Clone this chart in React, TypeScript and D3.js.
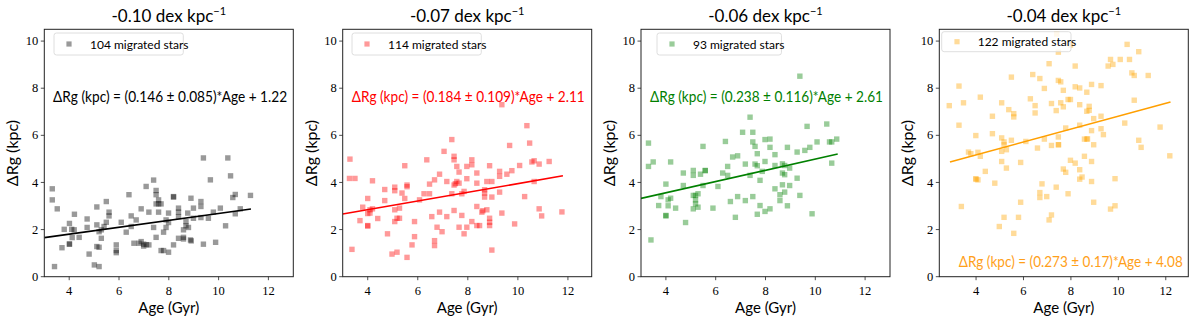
import React, { useLayoutEffect, useRef, useState } from "react";
import * as d3 from "d3";

// ---------- DATA ----------
const titles = ["-0.10", "-0.07", "-0.06", "-0.04"];
const starCounts = [104, 114, 93, 122];
const slopes = ["0.146", "0.184", "0.238", "0.273"];
const slopeErrs = ["0.085", "0.109", "0.116", "0.17"];
const intercepts = ["1.22", "2.11", "2.61", "4.08"];
const fitRanges = [[3.0, 11.3], [3.0, 11.8], [3.0, 10.9], [2.9, 12.2]];
const xTicks = [4, 6, 8, 10, 12];
const yTicks = [0, 2, 4, 6, 8, 10];

const age1 = [3.32, 3.32, 3.52, 3.41, 3.8, 3.71, 4.01, 4.01, 4.01, 4.1, 4.21, 4.2, 4.12, 4.4, 4.72, 4.72, 4.8, 5.11, 5.11, 5.11, 5.01, 5.2, 5.2, 5.2, 5.29, 5.29, 5.4, 5.49, 5.49, 5.6, 5.6, 5.89, 5.89, 5.89, 6.09, 6.29, 6.4, 6.49, 6.49, 6.6, 6.69, 6.8, 6.89, 6.89, 6.99, 6.99, 7.09, 7.1, 7.2, 7.2, 7.39, 7.39, 7.49, 7.49, 7.49, 7.49, 7.59, 7.59, 7.59, 7.69, 7.69, 7.79, 7.79, 7.89, 7.89, 7.99, 7.99, 7.99, 8.19, 8.19, 8.19, 8.39, 8.39, 8.39, 8.39, 8.59, 8.59, 8.59, 8.76, 8.69, 8.69, 8.79, 8.89, 8.87, 8.9, 8.99, 8.99, 9.29, 9.29, 9.29, 9.39, 9.39, 9.59, 9.67, 9.79, 9.88, 10.07, 10.28, 10.37, 10.48, 10.57, 10.67, 10.67, 10.87, 11.28];
const drg1 = [3.73, 3.26, 2.88, 0.43, 2.01, 1.23, 2.26, 1.39, 1.38, 2.01, 2.65, 1.99, 1.66, 1.67, 2.45, 2.09, 0.96, 2.96, 2.2, 1.28, 0.5, 0.43, 1.25, 1.91, 1.63, 1.99, 2.13, 3.19, 2.31, 2.74, 2.58, 1.35, 1.11, 1.02, 2.31, 1.89, 3.48, 2.58, 2.13, 1.42, 2.41, 1.42, 2.88, 1.49, 1.3, 1.38, 3.83, 1.36, 2.74, 1.35, 4.1, 2.09, 3.66, 3.48, 3.09, 1.67, 3.26, 2.74, 3.09, 3.09, 1.11, 1.89, 1.11, 2.09, 2.41, 2.7, 1.04, 2.3, 3.38, 3.4, 1.35, 2.91, 2.74, 1.63, 2.55, 1.67, 1.99, 1.6, 2.7, 2.34, 2.16, 2.09, 3.33, 1.56, 1.52, 2.91, 2.48, 3.19, 2.98, 2.51, 5.04, 1.38, 2.48, 4.11, 2.74, 1.46, 2.91, 2.16, 5.04, 4.28, 3.36, 3.49, 2.67, 2.88, 3.45];

const age2 = [3.29, 3.27, 3.49, 3.37, 3.69, 3.8, 4.0, 4.0, 4.0, 4.09, 4.09, 4.19, 4.19, 4.4, 4.68, 4.68, 4.79, 5.08, 5.08, 5.08, 5.08, 5.17, 4.97, 5.17, 5.27, 5.27, 5.37, 5.48, 5.48, 5.57, 5.57, 5.57, 5.77, 5.87, 5.87, 6.07, 6.25, 6.36, 6.47, 6.47, 6.56, 6.67, 6.67, 6.67, 6.77, 6.87, 6.87, 6.97, 7.05, 7.16, 7.16, 7.36, 7.36, 7.45, 7.45, 7.45, 7.45, 7.56, 7.56, 7.65, 7.65, 7.65, 7.76, 7.76, 7.85, 7.85, 7.96, 7.96, 7.96, 8.16, 8.16, 8.16, 8.36, 8.36, 8.36, 8.36, 8.47, 8.56, 8.67, 8.67, 8.67, 8.76, 8.76, 8.87, 8.87, 8.87, 8.87, 8.96, 8.96, 8.96, 9.27, 9.27, 9.27, 9.36, 9.36, 9.56, 9.67, 9.76, 9.87, 10.07, 10.27, 10.36, 10.47, 10.56, 10.65, 10.65, 10.85, 10.85, 10.95, 11.25, 11.76, 4.0, 8.6, 7.5];
const drg2 = [4.99, 4.17, 4.17, 1.16, 2.38, 2.95, 3.32, 2.17, 2.15, 2.7, 2.84, 4.07, 2.88, 2.47, 3.7, 3.23, 1.82, 3.8, 3.65, 2.84, 2.34, 2.48, 0.96, 1.04, 2.91, 2.48, 3.55, 4.71, 3.32, 3.89, 3.82, 0.82, 1.35, 1.7, 2.34, 3.26, 3.52, 4.96, 3.93, 3.52, 2.55, 4.11, 1.53, 1.32, 2.1, 4.35, 2.74, 1.91, 5.32, 4.04, 2.55, 5.82, 3.52, 5.11, 4.96, 3.89, 2.81, 4.04, 4.68, 4.44, 3.97, 2.1, 3.52, 2.6, 3.62, 1.82, 4.68, 4.16, 2.1, 4.96, 4.75, 2.34, 4.4, 3.97, 2.98, 2.17, 2.17, 2.74, 3.69, 3.55, 3.38, 4.04, 2.84, 4.71, 2.48, 2.31, 2.17, 4.04, 3.38, 1.13, 4.47, 4.26, 3.59, 7.3, 2.7, 4.35, 5.57, 4.5, 2.24, 4.72, 3.4, 6.41, 5.67, 4.87, 4.92, 4.04, 4.78, 2.88, 2.58, 4.89, 2.75, 2.68, 2.8, 3.95];

const age3 = [3.3, 3.3, 3.49, 3.4, 3.71, 3.8, 4.0, 4.0, 4.09, 4.09, 4.19, 4.19, 4.39, 4.7, 4.7, 4.79, 5.1, 5.1, 5.1, 5.1, 5.19, 5.19, 5.19, 5.29, 5.29, 5.39, 5.49, 5.49, 5.58, 5.89, 6.09, 6.28, 6.39, 6.48, 6.48, 6.59, 6.68, 6.79, 6.88, 6.88, 7.08, 7.19, 7.19, 7.38, 7.38, 7.49, 7.49, 7.49, 7.58, 7.58, 7.67, 7.67, 7.67, 7.78, 7.78, 7.87, 7.98, 7.98, 7.98, 8.18, 8.18, 8.18, 8.38, 8.38, 8.38, 8.58, 8.58, 8.68, 8.68, 8.68, 8.77, 8.77, 8.77, 8.88, 8.88, 8.97, 8.97, 9.27, 9.27, 9.38, 9.38, 9.58, 9.67, 9.78, 9.87, 10.07, 10.46, 10.57, 10.66, 10.66, 10.86, 5.58, 4.0];
const drg3 = [5.67, 4.68, 4.87, 1.56, 3.02, 3.4, 3.93, 2.58, 3.26, 3.01, 4.87, 3.33, 2.91, 4.4, 3.87, 2.3, 4.51, 4.3, 3.45, 2.88, 3.45, 3.26, 3.09, 3.52, 2.95, 4.35, 5.53, 3.87, 4.51, 2.91, 3.83, 4.4, 5.74, 4.68, 4.3, 3.19, 5.08, 2.52, 5.13, 3.4, 6.13, 4.78, 3.23, 6.77, 4.3, 6.13, 5.72, 3.4, 5.53, 4.78, 5.22, 4.71, 2.65, 4.09, 3.02, 4.47, 5.82, 4.89, 2.77, 5.84, 5.49, 2.88, 5.18, 4.72, 3.73, 3.48, 3.23, 4.79, 4.4, 3.9, 4.72, 4.33, 3.59, 5.49, 3.01, 4.61, 3.87, 5.29, 4.18, 8.51, 3.45, 5.36, 6.38, 5.49, 2.67, 5.72, 6.48, 5.72, 5.72, 4.82, 5.84, 4.5, 2.6];

const age4 = [2.87, 3.28, 3.28, 3.47, 3.38, 3.68, 3.78, 3.99, 3.99, 4.08, 4.08, 4.18, 4.18, 4.39, 4.69, 4.69, 4.79, 4.98, 5.08, 5.08, 5.08, 5.08, 5.18, 5.18, 5.18, 5.28, 5.28, 5.38, 5.49, 5.49, 5.59, 5.59, 5.59, 5.79, 5.88, 5.88, 6.1, 6.29, 6.39, 6.49, 6.49, 6.59, 6.69, 6.69, 6.69, 6.78, 6.88, 6.88, 6.98, 7.08, 7.08, 7.18, 7.18, 7.18, 7.38, 7.38, 7.47, 7.47, 7.47, 7.47, 7.57, 7.57, 7.68, 7.68, 7.68, 7.78, 7.78, 7.88, 7.88, 7.98, 7.98, 7.98, 8.18, 8.18, 8.18, 8.37, 8.37, 8.37, 8.37, 8.37, 8.47, 8.57, 8.57, 8.67, 8.67, 8.67, 8.77, 8.77, 8.87, 8.87, 8.87, 8.87, 8.96, 8.96, 8.96, 9.27, 9.27, 9.27, 9.37, 9.57, 9.67, 9.67, 9.77, 9.86, 9.86, 10.08, 10.27, 10.37, 10.47, 10.57, 10.67, 10.67, 10.86, 10.86, 10.96, 11.26, 11.76, 12.17, 7.4, 4.0, 7.48, 8.7];
const drg4 = [7.26, 8.09, 6.43, 7.38, 2.98, 5.29, 5.22, 5.99, 4.16, 5.28, 4.11, 7.62, 5.11, 4.47, 6.81, 6.07, 3.97, 2.13, 7.38, 5.89, 5.32, 4.89, 5.72, 5.6, 2.52, 5.39, 4.61, 7.09, 8.47, 5.79, 6.92, 6.78, 1.84, 2.52, 4.85, 3.16, 5.74, 7.55, 8.58, 7.26, 6.95, 5.46, 8.41, 3.57, 3.36, 3.94, 7.99, 5.84, 3.4, 9.04, 2.41, 7.35, 5.57, 2.62, 7.05, 3.8, 9.53, 8.33, 5.93, 5.6, 8.27, 7.38, 7.91, 7.21, 4.57, 6.31, 4.43, 7.52, 3.52, 9.83, 7.52, 4.94, 8.94, 8.06, 4.82, 8.01, 7.3, 6.43, 4.54, 4.14, 4.23, 5.84, 5.11, 5.84, 7.83, 7.02, 7.23, 7.06, 6.2, 4.89, 4.04, 8.16, 6.71, 5.6, 3.16, 8.11, 6.81, 6.28, 6.03, 8.94, 9.22, 2.87, 9.01, 3.01, 4.16, 9.22, 6.52, 9.86, 9.22, 8.65, 8.54, 7.49, 9.55, 5.79, 5.49, 8.54, 6.35, 5.13, 10.3, 4.13, 5.6, 5.85];

const ages = [age1, age2, age3, age4];
const drgs = [drg1, drg2, drg3, drg4];

// ---------- LAYOUT / STYLE ----------
const W = 1200;
const H = 326;
const TOP = 29.3;
const BOTTOM = 276.7;
const AX_W = 249;
const Y_MAX = 10.5;
const panels = [
  { left: 44.3, x0: 3, x1: 13, color: "#000000", line: "#000000", text: "#000000", legX: 9.7, legY: 3.7, eqX: 3.35, eqY: 7.42, eqW: 234 },
  { left: 342.7, x0: 3, x1: 12.95, color: "#ff0000", line: "#ff0000", text: "#ff0000", legX: 9.3, legY: 3.7, eqX: 3.36, eqY: 7.42, eqW: 233 },
  { left: 641, x0: 3, x1: 13, color: "#008000", line: "#008000", text: "#008000", legX: 16, legY: 3.7, eqX: 3.36, eqY: 7.42, eqW: 233 },
  { left: 939.3, x0: 2.45, x1: 12.95, color: "#ffa500", line: "#ff9f00", text: "#ff9f1a", legX: 2.4, legY: 2.4, eqX: 3.27, eqY: 0.41, eqW: 224 },
];
const SANS = "Lato, 'DejaVu Sans', sans-serif";
const SERIF = "'Liberation Serif', 'DejaVu Serif', serif";

function FitText({ x, y, width, fill, children }: { x: number; y: number; width: number; fill: string; children: string }) {
  const ref = useRef<SVGTextElement>(null);
  const [s, setS] = useState(0.85);
  useLayoutEffect(() => {
    if (ref.current) {
      const len = ref.current.getComputedTextLength();
      if (len > 0) setS(width / len);
    }
  }, [width, children]);
  return (
    <text ref={ref} transform={`translate(${x},${y}) scale(${s},1)`} fill={fill} fontFamily={SANS} fontSize={15.5}>
      {children}
    </text>
  );
}

function Panel({ i }: { i: number }) {
  const p = panels[i];
  const x = d3.scaleLinear().domain([p.x0, p.x1]).range([p.left, p.left + AX_W]);
  const y = d3.scaleLinear().domain([0, Y_MAX]).range([BOTTOM, TOP]);
  const slope = +slopes[i];
  const icpt = +intercepts[i];
  const fit = fitRanges[i].map((a) => [a, slope * a + icpt] as [number, number]);
  const lineGen = d3.line<[number, number]>().x((d) => x(d[0])).y((d) => y(d[1]));
  const cx = p.left + AX_W / 2;
  const legendLabel = `${starCounts[i]} migrated stars`;
  const legW = 36 + legendLabel.length * 4.85 + 6;
  const legH = i === 3 ? 20 : 22;
  const lx = p.left + p.legX;
  const ly = TOP + p.legY;
  const pts = ages[i].map((a, k) => [a, drgs[i][k]]);
  const clipId = `clip${i}`;
  return (
    <g>
      <defs>
        <clipPath id={clipId}>
          <rect x={p.left} y={TOP} width={AX_W} height={BOTTOM - TOP} />
        </clipPath>
      </defs>
      <g clipPath={`url(#${clipId})`}>
        {pts.map((d, k) => (
          <rect key={k} x={x(d[0]) - 2.7} y={y(d[1]) - 2.7} width={5.4} height={5.4} fill={p.color} fillOpacity={0.4} />
        ))}
        <path d={lineGen(fit) || ""} stroke={p.line} strokeWidth={1.6} fill="none" />
      </g>
      <FitText x={x(p.eqX)} y={y(p.eqY)} width={p.eqW} fill={p.text}>
        {`ΔRg (kpc) = (${slopes[i]} ± ${slopeErrs[i]})*Age + ${intercepts[i]}`}
      </FitText>
      {/* legend */}
      <rect x={lx} y={ly} width={legW} height={legH} rx={2.5} fill="#ffffff" fillOpacity={0.8} stroke="#d6d6d6" strokeWidth={0.8} />
      <rect x={lx + 15 - 2.6 + (i === 3 ? 0.3 : 0)} y={ly + legH / 2 - 2.6} width={5.2} height={5.2} fill={p.color} fillOpacity={0.4} />
      <text x={lx + 36} y={ly + legH / 2} dominantBaseline="central" fontFamily={SANS} fontSize={12} fill="#000">
        {legendLabel}
      </text>
      {/* spines */}
      <rect x={p.left} y={TOP} width={AX_W} height={BOTTOM - TOP} fill="none" stroke="#222" strokeWidth={1} />
      {/* x ticks */}
      {xTicks.map((t) => (
        <g key={t}>
          <line x1={x(t)} x2={x(t)} y1={BOTTOM} y2={BOTTOM + 3.5} stroke="#222" strokeWidth={0.8} />
          <text x={x(t)} y={BOTTOM + 18.5} textAnchor="middle" fontFamily={SERIF} fontSize={12.5} fill="#000">
            {t}
          </text>
        </g>
      ))}
      {yTicks.map((t) => (
        <g key={t}>
          <line x1={p.left - 3.5} x2={p.left} y1={y(t)} y2={y(t)} stroke="#222" strokeWidth={0.8} />
          <text x={p.left - 6} y={y(t)} dy="0.33em" textAnchor="end" fontFamily={SERIF} fontSize={12.5} fill="#000">
            {t}
          </text>
        </g>
      ))}
      {/* labels */}
      <text x={cx} y={313} textAnchor="middle" fontFamily={SANS} fontSize={15} fill="#000">
        Age (Gyr)
      </text>
      <text
        transform={`translate(${p.left - 26},${(TOP + BOTTOM) / 2}) rotate(-90)`}
        textAnchor="middle"
        fontFamily={SANS}
        fontSize={16}
        fill="#000"
      >
        ΔRg (kpc)
      </text>
      <text x={cx} y={22} textAnchor="middle" fontFamily={SANS} fontSize={17} fill="#000">
        {`${titles[i]} dex kpc`}
        <tspan fontSize={11} dy={-7}>−1</tspan>
      </text>
    </g>
  );
}

export default function App() {
  return (
    <svg
      width={W}
      height={H}
      viewBox={`0 0 ${W} ${H}`}
      style={{ position: "absolute", left: 0, top: 0, background: "#fff" }}
    >
      <rect x={0} y={0} width={W} height={H} fill="#fff" />
      {panels.map((_, i) => (
        <Panel key={i} i={i} />
      ))}
    </svg>
  );
}
